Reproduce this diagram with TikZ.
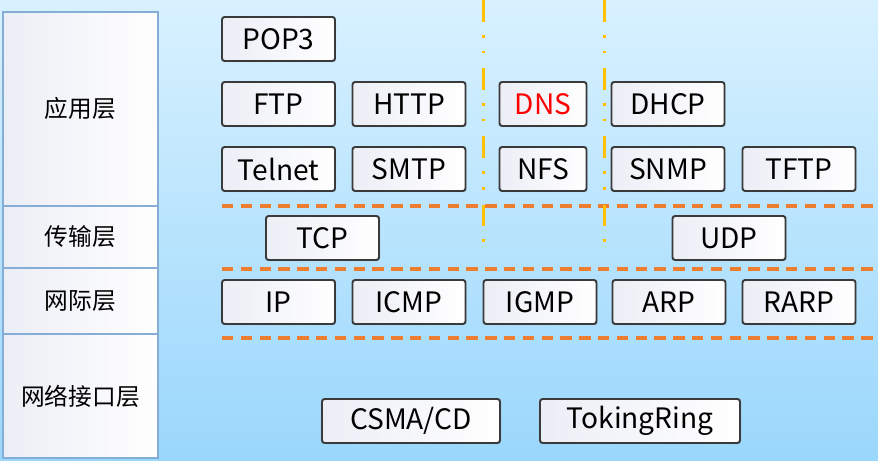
\documentclass[tikz,border=0pt]{standalone}
\usepackage{fontspec}
\setmainfont{Noto Sans CJK SC}
\usetikzlibrary{shadows}
\definecolor{bgtop}{HTML}{D8F1FF}
\definecolor{bgbot}{HTML}{9AD7FC}
\definecolor{layc}{HTML}{86ADD6}
\definecolor{boxc}{HTML}{3A3A3A}
\definecolor{pgc}{HTML}{ECEEF6}
\definecolor{sepc}{HTML}{ED7D31}
\definecolor{colc}{HTML}{FFC000}
\tikzset{
  lay/.style={draw=layc,line width=1.1pt,left color=pgc,right color=white,minimum width=3.1cm,inner sep=0pt,font=\fontsize{13.5}{16}\selectfont},
  proto/.style={draw=boxc,line width=1.1pt,rounded corners=1.5pt,left color=pgc,right color=white,minimum width=2.26cm,minimum height=0.88cm,inner sep=0pt,font=\fontsize{16}{19}\selectfont,drop shadow={opacity=0.2,shadow xshift=0.6pt,shadow yshift=-0.6pt}},
  narrow/.style={minimum width=1.74cm},
  sep/.style={sepc,line width=2pt,dash pattern=on 6.5pt off 4.2pt},
  col/.style={colc,line width=1.7pt,dash pattern=on 12.5pt off 7.4pt on 1.5pt off 7.4pt on 1.5pt off 8.5pt}
}
\begin{document}
\begin{tikzpicture}[x=0.02cm,y=0.02cm]
\useasboundingbox (0,0) rectangle (878,460);
\shade[top color=bgtop,bottom color=bgbot] (0,0) rectangle (878,460);
% layer column
\node[lay,minimum height=3.88cm] (app) at (80.5,351) {应用层};
\node[lay,minimum height=1.24cm] (trans) at (80.5,223) {传输层};
\node[lay,minimum height=1.32cm] (inet) at (80.5,159) {网际层};
\node[lay,minimum height=2.48cm] (link) at (80.5,64) {网络接口层};
% separators
\foreach \yy in {254,191,122}
  \draw[sep] (222,\yy) -- (878,\yy);
\foreach \xx in {483,604}
  \draw[col] (\xx,460) -- (\xx,210);
% application layer
\node[proto] (pop3) at (278.5,421) {POP3};
\foreach \nm/\txt/\xx in {ftp/FTP/278.5,http/HTTP/409,dhcp/DHCP/668}
  \node[proto] (\nm) at (\xx,356) {\txt};
\node[proto,narrow,text=red] (dns) at (543,356) {DNS};
\foreach \nm/\txt/\xx in {telnet/Telnet/278.5,smtp/SMTP/409,snmp/SNMP/668,tftp/TFTP/799}
  \node[proto] (\nm) at (\xx,291) {\txt};
\node[proto,narrow] (nfs) at (543,291) {NFS};
% transport layer
\node[proto] (tcp) at (322.5,222) {TCP};
\node[proto] (udp) at (729,222) {UDP};
% internet layer
\foreach \nm/\txt/\xx in {ip/IP/278.5,icmp/ICMP/409,igmp/IGMP/540,arp/ARP/669,rarp/RARP/799}
  \node[proto] (\nm) at (\xx,158) {\txt};
% link layer
\node[proto,minimum width=3.56cm] (csma) at (411,39) {CSMA/CD};
\node[proto,minimum width=4cm] (token) at (640,39) {TokingRing};
\end{tikzpicture}
\end{document}
